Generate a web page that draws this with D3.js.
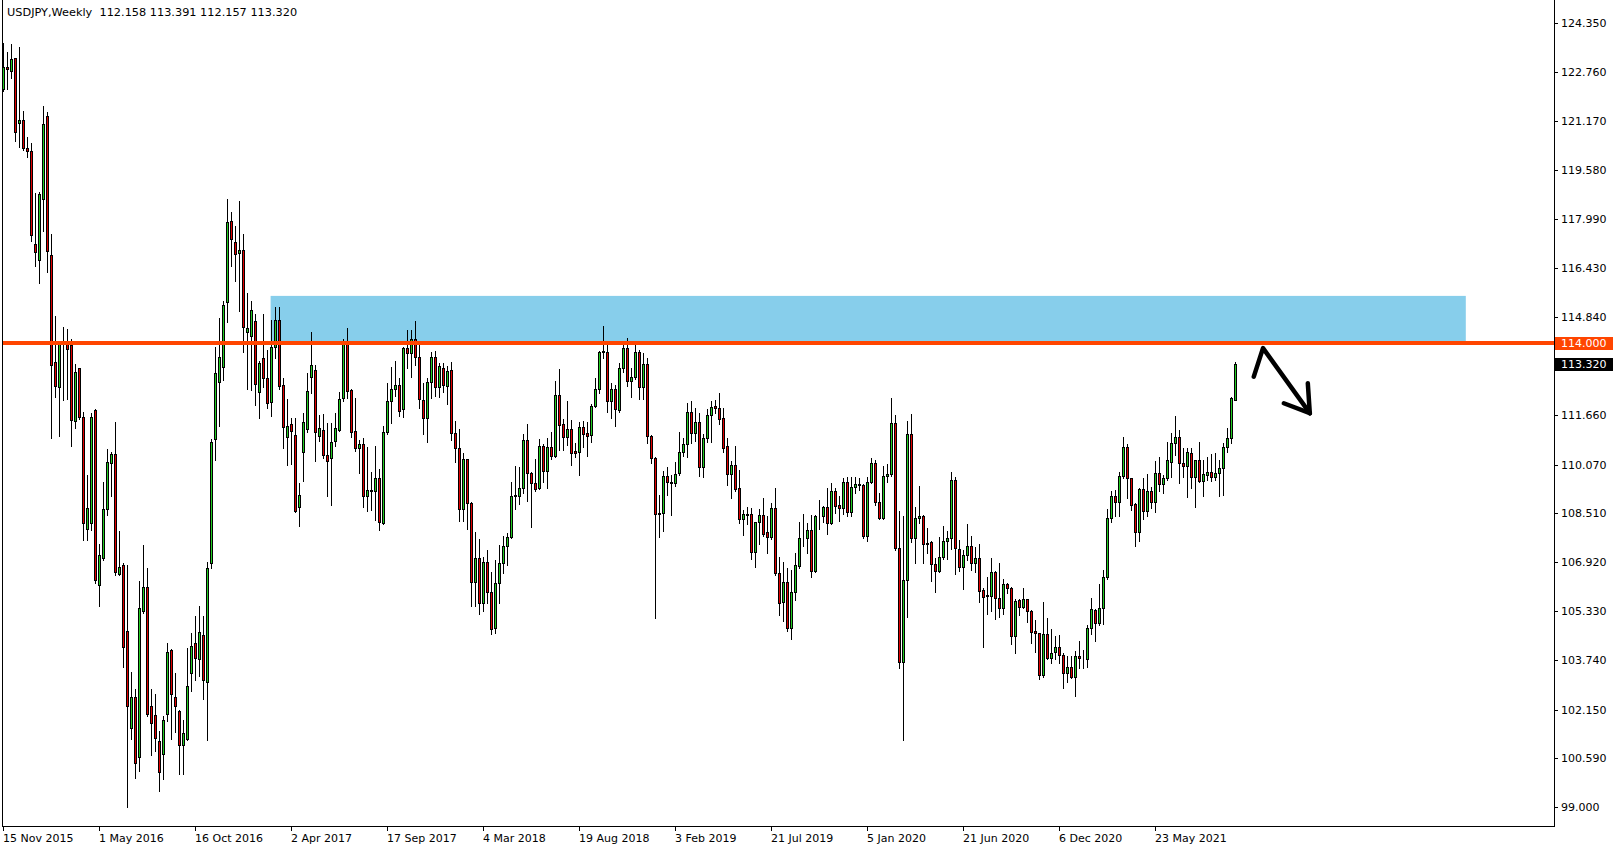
<!DOCTYPE html>
<html>
<head>
<meta charset="utf-8">
<script src="https://cdn.jsdelivr.net/npm/d3@7"></script>
<style>
  html, body { margin: 0; padding: 0; background: #ffffff; }
  svg { display: block; }
  text { font-family: "DejaVu Sans", Verdana, sans-serif; }
</style>
</head>
<body>
<svg id="chart" width="1618" height="850"></svg>
<script>
// ---------------- DATA ----------------
const symbolTitle = "USDJPY,Weekly";
const startWeek = new Date(2015, 10, 15); // first bar: week of 15 Nov 2015

const opens = [
122.22,122.91,122.80,123.20,121.12,121.22,120.30,120.21,117.20,116.69,118.65,121.33,116.85,113.39,112.57,113.95,113.95,113.94,111.49,113.18,
111.60,107.99,108.17,111.84,106.19,107.04,108.63,110.13,110.42,106.52,106.83,104.69,101.55,102.57,100.60,105.34,106.11,102.25,101.96,101.12,
100.71,102.01,104.07,102.57,102.09,101.00,101.20,103.33,104.31,103.78,104.55,103.04,106.88,110.88,112.75,113.23,115.33,117.94,117.27,116.92,
116.99,114.34,114.23,114.71,112.42,113.50,112.86,112.10,113.88,114.74,112.64,110.95,111.37,111.02,108.69,110.49,111.22,112.91,113.12,110.99,
111.20,110.38,110.29,110.83,111.20,112.21,114.02,112.48,111.15,110.61,110.73,109.06,109.25,109.22,109.62,108.19,111.11,112.13,112.50,112.64,
111.85,113.82,113.68,114.13,113.56,112.16,111.56,112.73,113.53,112.59,113.18,112.62,113.12,111.08,110.59,108.62,110.24,108.84,106.28,107.04,
105.58,106.91,105.94,104.77,106.23,106.88,107.45,107.74,109.05,109.06,109.30,110.86,109.79,109.46,109.30,110.67,109.87,110.65,110.36,112.32,
111.37,110.95,111.22,110.50,110.48,111.27,111.08,111.02,111.97,112.50,113.70,113.72,112.13,112.50,111.83,113.18,113.85,112.78,112.89,113.70,
112.59,113.31,111.00,110.27,108.46,108.49,109.71,109.49,109.46,109.79,110.46,110.72,111.78,111.08,111.46,109.98,110.92,111.67,111.96,111.89,
111.56,110.67,109.75,110.05,109.30,108.30,108.47,108.47,107.25,108.20,108.44,107.88,107.72,108.65,106.55,105.62,106.28,104.78,105.94,106.80,
107.68,107.68,107.95,106.64,108.39,108.40,108.69,108.19,109.21,108.76,108.65,109.50,108.55,109.33,109.43,109.40,107.77,109.50,110.11,108.87,
108.33,109.70,109.75,111.40,107.36,103.70,106.34,111.05,107.68,108.35,108.41,107.49,107.55,106.84,106.64,107.07,107.60,107.68,109.57,107.33,
106.77,107.15,107.45,106.88,107.04,106.01,105.83,105.83,106.59,105.75,105.42,106.20,106.07,104.54,105.70,105.46,105.71,105.35,104.69,104.61,
103.27,104.59,103.81,104.00,104.16,103.91,103.34,103.54,103.19,103.89,103.81,103.78,104.78,105.37,104.94,105.42,106.45,108.35,109.06,108.85,
109.70,110.65,109.62,108.78,107.90,109.27,108.58,109.22,108.87,109.79,109.43,109.62,110.16,110.78,110.97,110.11,110.02,110.45,109.66,110.20,
109.55,109.73,109.82,109.66,109.79,109.95,110.63,110.92,112.158];

const highs = [
123.71,123.40,123.66,123.22,123.58,121.49,120.66,120.45,118.84,118.89,121.67,121.46,117.52,114.87,113.97,114.50,114.45,114.13,113.33,113.20,
111.78,109.72,111.73,111.88,107.50,109.52,110.56,110.46,111.45,107.91,106.90,106.83,103.37,102.80,106.32,107.47,106.72,102.81,102.65,101.45,
101.93,104.30,104.10,103.34,102.12,101.81,104.15,104.61,105.17,105.50,105.17,106.91,110.90,113.86,114.79,115.37,118.65,118.22,117.78,118.59,
117.51,115.60,115.35,114.94,113.40,114.93,113.77,114.74,115.17,115.17,112.86,112.20,111.56,111.56,109.48,111.75,113.02,114.36,113.29,111.67,
111.69,111.40,111.42,111.75,112.42,114.13,114.47,112.50,112.21,110.86,110.92,110.65,109.84,110.67,109.91,111.32,112.69,113.23,113.41,112.86,
113.88,114.42,114.42,114.71,113.93,112.69,112.88,113.72,113.74,113.36,113.36,113.25,113.39,111.48,111.22,110.43,110.26,108.87,107.88,107.66,
107.09,107.30,106.60,106.98,107.47,107.76,107.85,109.52,110.02,110.00,111.05,111.37,109.82,110.25,110.88,110.72,110.94,111.13,112.77,113.16,
111.54,112.12,111.51,110.75,111.45,111.48,111.45,112.01,112.86,113.74,114.55,113.99,112.69,112.64,113.34,114.04,114.17,113.18,113.99,113.77,
113.66,113.50,111.02,110.30,109.09,109.86,109.98,109.73,110.14,111.13,110.92,112.07,112.12,111.89,111.73,111.06,111.85,112.12,112.16,112.37,
111.89,110.92,110.18,110.67,109.89,108.60,108.71,108.65,108.22,108.63,109.00,108.39,108.84,109.30,107.07,106.93,106.71,106.66,107.20,108.22,
108.46,108.17,108.44,108.44,108.92,108.73,109.30,109.46,109.30,109.05,109.65,109.68,109.68,109.68,109.65,109.43,109.66,110.27,110.22,109.14,
110.02,110.10,112.21,111.67,108.57,108.40,111.48,111.70,108.71,109.39,108.45,108.03,107.60,107.04,107.74,108.08,107.92,109.84,109.68,107.63,
107.31,108.15,107.76,107.39,107.50,106.07,106.45,107.04,106.63,106.90,106.36,106.23,106.12,105.71,105.72,106.07,105.73,105.37,105.05,104.63,
105.64,105.12,104.74,104.54,104.56,103.97,103.88,103.88,104.05,104.37,104.08,104.88,105.77,105.39,106.20,106.66,108.62,109.22,109.23,109.84,
110.95,110.72,109.64,108.84,109.32,109.65,109.75,109.35,110.18,110.30,109.73,110.79,111.08,111.64,111.19,110.59,110.59,110.59,110.22,110.79,
110.22,110.32,110.40,110.43,110.22,110.78,111.24,112.25,113.391];

const lows = [
122.15,122.22,122.55,120.54,120.32,120.22,120.01,117.31,116.48,115.95,117.63,116.28,110.93,112.25,111.00,112.14,112.20,110.67,111.25,111.53,
107.63,107.63,107.96,106.25,105.50,106.99,108.44,109.05,106.50,106.50,103.54,99.00,101.19,99.95,100.16,105.26,101.93,100.69,100.80,99.52,
99.92,101.77,101.20,101.41,100.08,100.08,101.15,102.76,103.10,103.22,102.49,101.16,106.72,110.22,111.33,112.80,114.69,116.49,116.00,115.03,
113.72,112.51,112.48,111.99,111.56,112.58,111.89,111.65,113.50,112.51,110.59,110.05,110.10,108.52,108.09,109.54,111.13,112.37,110.18,110.83,
110.29,109.06,108.76,110.67,111.15,112.12,112.21,110.97,110.50,109.80,108.70,108.58,108.60,108.28,107.95,108.14,111.05,111.42,112.29,111.65,
111.62,113.20,112.91,113.29,111.91,111.05,110.81,112.21,112.30,112.26,112.42,112.01,110.86,110.16,108.26,108.26,107.99,105.50,105.50,105.23,
105.32,105.58,104.60,104.64,105.60,106.57,106.82,107.70,108.62,108.79,109.14,108.90,108.06,109.21,109.27,109.52,109.32,110.24,110.32,110.54,
110.54,110.70,110.05,110.30,109.73,110.65,110.36,110.81,111.92,112.39,113.50,111.78,111.58,111.33,111.76,113.07,112.62,112.26,112.83,112.19,
112.19,110.78,110.11,105.10,107.74,107.93,109.09,108.44,109.38,109.73,110.35,110.32,110.75,110.83,109.70,109.68,110.79,110.81,111.73,111.37,
110.49,109.41,108.98,109.22,108.19,107.79,108.14,107.00,106.75,107.50,107.76,107.20,107.66,106.50,105.21,105.02,104.70,104.42,105.69,106.72,
107.42,107.22,106.45,106.61,107.99,108.22,107.83,108.15,108.49,108.25,108.46,108.39,108.39,109.14,109.25,107.70,107.61,109.46,108.76,108.30,
108.30,109.52,109.70,107.30,103.48,101.18,105.13,107.57,106.90,108.17,106.90,107.20,106.32,105.96,106.59,107.01,107.02,107.34,106.53,106.64,
106.04,106.98,106.66,106.61,105.64,104.16,105.24,105.35,105.08,105.15,105.24,105.91,104.26,103.97,105.19,105.42,104.99,104.31,104.00,103.14,
103.19,103.78,103.65,103.78,103.65,102.84,103.05,103.17,102.59,103.48,103.48,103.51,104.58,104.38,104.88,104.90,106.36,108.22,108.39,108.39,
109.62,108.98,108.60,107.45,107.61,108.30,108.39,108.65,108.52,109.22,109.16,109.57,109.68,110.38,109.48,109.68,109.03,109.32,108.69,109.52,
109.06,109.57,109.55,109.57,109.06,109.08,110.49,110.78,112.157];

const closes = [
122.91,122.86,123.18,120.83,121.22,120.29,120.19,117.49,116.94,118.81,121.06,116.96,113.29,112.62,113.95,113.97,113.80,111.52,113.05,111.62,
108.17,108.68,111.60,106.35,107.15,108.63,110.16,110.42,106.59,106.75,104.18,102.25,102.54,100.43,105.43,106.11,102.01,101.73,101.24,100.13,
101.80,104.02,102.65,102.28,101.01,101.40,102.92,104.21,103.81,104.66,103.10,106.72,110.80,113.02,113.53,115.23,117.90,117.35,116.86,116.99,
114.53,114.47,115.08,112.66,113.34,112.88,112.05,113.88,114.74,112.62,111.29,111.31,111.16,108.58,109.09,111.43,112.45,113.28,111.13,111.24,
110.38,110.18,110.80,111.24,112.18,114.02,112.46,111.13,110.61,110.73,109.06,109.25,109.22,109.62,108.20,111.11,112.13,112.50,112.64,111.81,
113.82,113.68,114.13,113.56,112.18,111.56,112.73,113.56,112.59,113.25,112.64,113.09,111.08,110.59,108.62,110.24,108.82,106.28,107.04,105.58,
106.91,105.94,104.75,106.23,106.88,107.45,107.74,109.05,109.09,109.30,110.86,109.79,109.46,109.27,110.67,109.87,110.65,110.36,112.32,111.35,
110.95,111.22,110.45,110.44,111.27,111.05,111.00,111.97,112.50,113.70,113.74,112.13,112.50,111.85,113.18,113.85,112.78,112.89,113.70,112.59,
113.31,111.00,110.27,108.46,108.50,109.71,109.49,109.46,109.76,110.46,110.72,111.78,111.08,111.46,109.98,110.92,111.67,111.94,111.89,111.53,
110.59,109.75,110.05,109.28,108.30,108.47,108.45,107.25,108.20,108.44,107.82,107.72,108.65,106.55,105.58,106.26,104.78,105.94,106.82,107.68,
107.70,107.95,106.64,108.39,108.41,108.69,108.19,109.21,108.74,108.65,109.50,108.55,109.33,109.43,109.40,107.77,109.50,110.11,108.87,108.33,
109.70,109.75,111.40,107.36,103.70,106.34,111.05,107.68,108.35,108.41,107.49,107.52,106.84,106.64,107.07,107.60,107.68,109.57,107.36,106.77,
107.15,107.45,106.88,107.04,105.99,105.80,105.85,106.59,105.75,105.42,106.20,106.07,104.54,105.66,105.46,105.71,105.35,104.67,104.61,103.27,
104.59,103.81,103.97,104.16,103.90,103.34,103.54,103.19,103.89,103.81,103.80,104.78,105.39,104.96,105.42,106.45,108.35,109.06,108.85,109.70,
110.65,109.62,108.76,107.90,109.27,108.58,109.22,108.87,109.79,109.43,109.62,110.20,110.75,110.97,110.11,110.02,110.49,109.66,110.20,109.55,
109.75,109.82,109.68,109.79,109.95,110.63,110.92,112.21,113.320];

const priceTicks = [124.350, 122.760, 121.170, 119.580, 117.990, 116.430, 114.840,
                    111.660, 110.070, 108.510, 106.920, 105.330, 103.740, 102.150, 100.590, 99.000];
const dateTickIndex = [0, 24, 48, 72, 96, 120, 144, 168, 192, 216, 240, 264, 288];

const levelPrice = 114.000;                 // horizontal resistance line
const zoneBar = [66.9, 365.7];              // supply zone, bar-index extent
const zonePrice = [114.000, 115.52];        // supply zone, price extent
// hand-drawn arrow (bar index, price)
const arrowPath = [[312.7, 112.91], [315.0, 113.83], [326.7, 111.73]];
const arrowHeadA = [[320.2, 112.05], [326.7, 111.73]];
const arrowHeadB = [[326.2, 112.70], [326.7, 111.73]];

// ---------------- CHART ----------------
const W = 1618, H = 850;
const plotRight = 1554, plotBottom = 826, plotLeft = 2;
const bull = "#22cc22", bear = "#e00000", lineColor = "#ff4500", zoneColor = "#87ceeb";

const svg = d3.select("#chart");
svg.append("rect").attr("width", W).attr("height", H).attr("fill", "#fff");

const x = d3.scaleLinear().domain([0, 387]).range([3, 3 + 4 * 387]);
const y = d3.scaleLinear().domain([99.0, 124.35]).range([807, 22.7]);

const candles = opens.map((o, i) => ({ i, o, h: highs[i], l: lows[i], c: closes[i] }));

const plot = svg.append("g");
plot.append("clipPath").attr("id", "clip").append("rect")
  .attr("x", plotLeft).attr("y", 0).attr("width", plotRight - plotLeft).attr("height", plotBottom);
const g = plot.append("g").attr("clip-path", "url(#clip)");

// zone
g.append("rect")
  .attr("x", x(zoneBar[0])).attr("width", x(zoneBar[1]) - x(zoneBar[0]))
  .attr("y", y(zonePrice[1])).attr("height", y(zonePrice[0]) - y(zonePrice[1]))
  .attr("fill", zoneColor);

// wicks
g.append("g").selectAll("line").data(candles).join("line")
  .attr("x1", d => x(d.i) + 0.5).attr("x2", d => x(d.i) + 0.5)
  .attr("y1", d => Math.round(y(d.h))).attr("y2", d => Math.round(y(d.l)) + 1)
  .attr("stroke", "#000").attr("stroke-width", 1);

// bodies
g.append("g").selectAll("rect").data(candles).join("rect")
  .attr("x", d => x(d.i) - 0.5)
  .attr("width", 2)
  .attr("y", d => Math.round(y(Math.max(d.o, d.c))) + 0.5)
  .attr("height", d => Math.max(0, Math.round(y(Math.min(d.o, d.c))) - Math.round(y(Math.max(d.o, d.c)))))
  .attr("fill", d => d.c >= d.o ? bull : bear)
  .attr("stroke", "#000").attr("stroke-width", 1);

// level line
g.append("line")
  .attr("x1", 0).attr("x2", plotRight)
  .attr("y1", y(levelPrice)).attr("y2", y(levelPrice))
  .attr("stroke", lineColor).attr("stroke-width", 4);

// arrow
const ln = d3.line().x(d => x(d[0])).y(d => y(d[1]));
[arrowPath, arrowHeadA, arrowHeadB].forEach(p => {
  g.append("path").attr("d", ln(p)).attr("fill", "none")
    .attr("stroke", "#000").attr("stroke-width", 4.5)
    .attr("stroke-linecap", "round").attr("stroke-linejoin", "round");
});

// frame
svg.append("line").attr("x1", plotLeft + 0.5).attr("x2", plotLeft + 0.5).attr("y1", 0).attr("y2", plotBottom + 1)
  .attr("stroke", "#000");
svg.append("line").attr("x1", plotRight + 0.5).attr("x2", plotRight + 0.5).attr("y1", 0).attr("y2", plotBottom + 1)
  .attr("stroke", "#000");
svg.append("line").attr("x1", plotLeft).attr("x2", plotRight + 1).attr("y1", plotBottom + 0.5).attr("y2", plotBottom + 0.5)
  .attr("stroke", "#000");

// price axis
const yAxis = svg.append("g");
priceTicks.forEach(p => {
  const yy = Math.round(y(p)) + 0.5;
  yAxis.append("line").attr("x1", plotRight).attr("x2", plotRight + 4).attr("y1", yy).attr("y2", yy).attr("stroke", "#000");
  yAxis.append("text").attr("x", 1561).attr("y", yy).attr("dy", "0.35em")
    .attr("font-size", 11).attr("fill", "#000").text(d3.format(".3f")(p));
});

function priceTag(p, bg) {
  const yy = Math.round(y(p));
  yAxis.append("rect").attr("x", plotRight + 1).attr("y", yy - 6).attr("width", 58).attr("height", 13).attr("fill", bg);
  yAxis.append("text").attr("x", 1561).attr("y", yy + 0.5).attr("dy", "0.35em")
    .attr("font-size", 11).attr("fill", "#fff").text(d3.format(".3f")(p));
}
priceTag(levelPrice, lineColor);
priceTag(closes[closes.length - 1], "#000");

// date axis
const fmt = d3.timeFormat("%-d %b %Y");
const xAxis = svg.append("g");
dateTickIndex.forEach(k => {
  const xx = x(k) + 0.5;
  xAxis.append("line").attr("x1", xx).attr("x2", xx).attr("y1", plotBottom).attr("y2", plotBottom + 5).attr("stroke", "#000");
  xAxis.append("text").attr("x", x(k)).attr("y", 842).attr("font-size", 11).attr("fill", "#000")
    .text(fmt(d3.timeWeek.offset(startWeek, k)));
});

// header
const last = candles[candles.length - 1];
svg.append("text").attr("x", 7).attr("y", 16).attr("font-size", 11.3).attr("fill", "#000")
  .attr("xml:space", "preserve")
  .text(`${symbolTitle}  ${last.o.toFixed(3)} ${last.h.toFixed(3)} ${last.l.toFixed(3)} ${last.c.toFixed(3)}`);
</script>
</body>
</html>
